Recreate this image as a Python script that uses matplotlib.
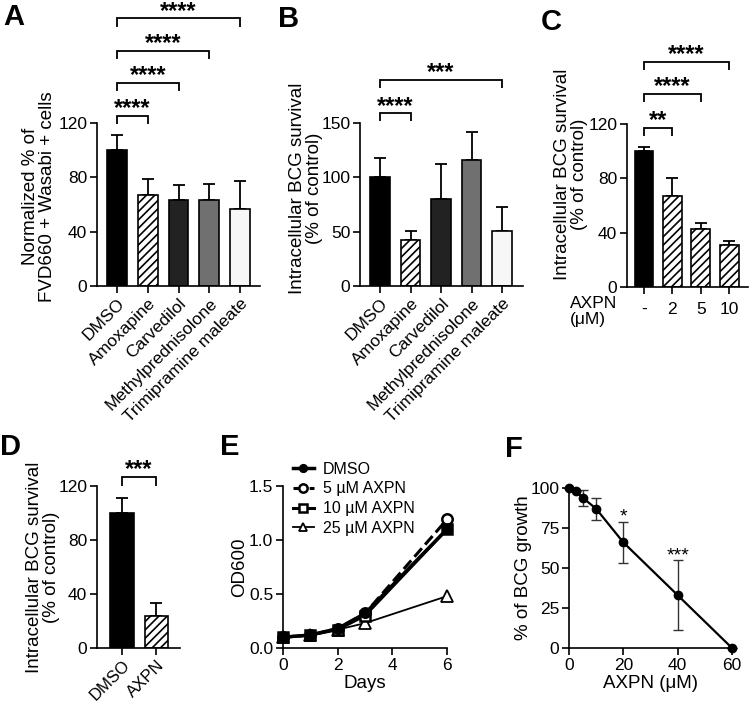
import matplotlib
matplotlib.use("Agg")
import matplotlib.pyplot as plt
import numpy as np

plt.rcParams['font.family'] = ['Liberation Sans', 'DejaVu Sans']
plt.rcParams['hatch.linewidth'] = 1.2
plt.rcParams['axes.linewidth'] = 1.2

W, H = 750, 703

# ---------------- data ----------------
drugs = ["DMSO", "Amoxapine", "Carvedilol", "Methylprednisolone", "Trimipramine maleate"]
a_vals = [100, 67, 63, 63, 57]
a_err = [11, 12, 11, 12, 20]
b_vals = [100, 42, 80, 116, 51]
b_err = [18, 9, 32, 26, 22]
drug_colors = ["#000000", "#ffffff", "#222222", "#707070", "#f7f7f7"]
drug_hatch = [None, "////", None, None, None]

c_labels = ["-", "2", "5", "10"]
c_vals = [100, 67, 43, 31]
c_err = [3, 13, 4, 3]

d_labels = ["DMSO", "AXPN"]
d_vals = [100, 24]
d_err = [11, 9]

e_days = [0, 1, 2, 3, 6]
e_dmso = [0.10, 0.12, 0.18, 0.32, 1.10]
e_5 = [0.10, 0.12, 0.18, 0.32, 1.19]
e_10 = [0.10, 0.12, 0.17, 0.30, 1.10]
e_25 = [0.10, 0.12, 0.17, 0.23, 0.48]

f_conc = [0, 2.5, 5, 10, 20, 40, 60]
f_growth = [100, 98, 94, 87, 66, 33, 0]
f_err = [0, 0, 5, 7, 13, 22, 0]

fig = plt.figure(figsize=(W / 100, H / 100), dpi=100)


def px_axes(x0, y_top, x1, y_bot):
    return fig.add_axes([x0 / W, 1 - y_bot / H, (x1 - x0) / W, (y_bot - y_top) / H])


def style(ax):
    for s in ["top", "right"]:
        ax.spines[s].set_visible(False)
    ax.tick_params(axis="both", length=5, width=1.2, labelsize=12.5, direction="out", pad=2)


def stars(ax, x, y, txt, size=17, weight="bold", off=0.5):
    ax.annotate(txt, xy=(x, y), xytext=(0, off), textcoords="offset points", ha="center",
                va="baseline", fontsize=size, fontweight=weight, annotation_clip=False)


def bracket(ax, x1, x2, y, h, txt):
    ax.plot([x1, x1, x2, x2], [y - h, y, y, y - h], color="black", lw=1.3, clip_on=False,
            solid_capstyle="butt", solid_joinstyle="miter")
    stars(ax, (x1 + x2) / 2, y, txt)


def bars(ax, vals, errs, colors, hatches, width):
    x = np.arange(len(vals))
    for i in range(len(vals)):
        ax.bar(x[i], vals[i], width=width, color=colors[i], edgecolor="black", lw=1.2,
               hatch=hatches[i], zorder=2)
    ax.errorbar(x, vals, yerr=[np.zeros(len(vals)), errs], fmt="none", ecolor="black",
                elinewidth=1.3, capsize=4.5, capthick=1.3, zorder=1)
    return x


# ---------------- A ----------------
axA = px_axes(97, 123, 260, 286)
style(axA)
x = bars(axA, a_vals, a_err, drug_colors, drug_hatch, 0.65)
axA.set_xlim(-0.65, 4.65)
axA.set_ylim(0, 120)
axA.set_yticks([0, 40, 80, 120])
axA.set_xticks(x)
axA.set_xticklabels(drugs, rotation=45, ha="right", rotation_mode="anchor", fontsize=12.5)
axA.set_ylabel("Normalized % of\nFVD660 + Wasabi + cells", fontsize=13.5, linespacing=1.0)
axA.yaxis.set_label_coords(-0.25, 0.55)
bracket(axA, 0, 1, 125, 6, "****")
bracket(axA, 0, 2, 149.5, 6, "****")
bracket(axA, 0, 3, 173, 6, "****")
bracket(axA, 0, 4, 197, 6, "****")

# ---------------- B ----------------
axB = px_axes(360, 123, 523, 286)
style(axB)
x = bars(axB, b_vals, b_err, drug_colors, drug_hatch, 0.65)
axB.set_xlim(-0.66, 4.69)
axB.set_ylim(0, 150)
axB.set_yticks([0, 50, 100, 150])
axB.set_xticks(x)
axB.set_xticklabels(drugs, rotation=45, ha="right", rotation_mode="anchor", fontsize=12.5)
axB.set_ylabel("Intracellular BCG survival\n(% of control)", fontsize=13.5, linespacing=1.0)
axB.yaxis.set_label_coords(-0.23, 0.6)
bracket(axB, 0, 1, 159, 7.5, "****")
bracket(axB, 0, 4, 190, 7.5, "***")

# ---------------- C ----------------
axC = px_axes(627, 124, 748, 287)
style(axC)
x = bars(axC, c_vals, c_err, ["#000000", "#ffffff", "#ffffff", "#ffffff"],
         [None, "////", "////", "////"], 0.67)
axC.set_xlim(-0.6, 3.67)
axC.set_ylim(0, 120)
axC.set_yticks([0, 40, 80, 120])
axC.set_xticks(x)
axC.set_xticklabels(c_labels, fontsize=12.5)
axC.tick_params(axis="x", pad=6)
axC.set_ylabel("Intracellular BCG survival\n(% of control)", fontsize=13.5, linespacing=1.0)
axC.yaxis.set_label_coords(-0.32, 0.69)
fig.text(570 / W, 1 - 296 / H, "AXPN\n(μM)", ha="left", va="top", fontsize=12.5, linespacing=1.1)
bracket(axC, 0, 1, 117, 6, "**")
bracket(axC, 0, 2, 142, 6, "****")
bracket(axC, 0, 3, 166, 6, "****")

# ---------------- D ----------------
axD = px_axes(97, 486, 180, 648)
style(axD)
x = bars(axD, d_vals, d_err, ["#000000", "#ffffff"], [None, "////"], 0.68)
axD.set_xlim(-0.735, 1.7)
axD.set_ylim(0, 120)
axD.set_yticks([0, 40, 80, 120])
axD.set_xticks(x)
axD.set_xticklabels(d_labels, rotation=45, ha="right", rotation_mode="anchor", fontsize=12)
axD.set_ylabel("Intracellular BCG survival\n(% of control)", fontsize=13.5, linespacing=1.0)
axD.yaxis.set_label_coords(-0.45, 0.5)
bracket(axD, 0, 1, 127, 7, "***")

# ---------------- E ----------------
axE = px_axes(283, 486, 447, 648)
style(axE)
axE.plot(e_days, e_dmso, "-", color="black", lw=2.5, marker="o", ms=7, mfc="black",
         mec="black", clip_on=False, zorder=4, label="DMSO")
axE.plot(e_days, e_5, "--", color="black", lw=2.2, marker="o", ms=7.5, mfc="white",
         mec="black", mew=1.8, clip_on=False, zorder=3, label="5 µM AXPN")
axE.plot(e_days, e_10, "-", color="black", lw=2.2, marker="s", ms=7.5, mfc="white",
         mec="black", mew=1.8, clip_on=False, zorder=3, label="10 µM AXPN")
axE.plot(e_days, e_25, "-", color="black", lw=1.3, marker="^", ms=8, mfc="white",
         mec="black", mew=1.3, clip_on=False, zorder=2, label="25 µM AXPN")
axE.set_xlim(0, 6)
axE.set_ylim(0, 1.5)
axE.set_xticks([0, 2, 4, 6])
axE.set_yticks([0, 0.5, 1.0, 1.5])
axE.set_yticklabels(["0.0", "0.5", "1.0", "1.5"])
axE.set_xlabel("Days", fontsize=13.5, labelpad=2)
axE.set_ylabel("OD600", fontsize=13.5)
axE.yaxis.set_label_coords(-0.21, 0.5)
axE.legend(loc="upper left", bbox_to_anchor=(0.06, 1.15), frameon=False, fontsize=11.5,
           handlelength=1.3, handletextpad=0.6, labelspacing=0.3, borderaxespad=0,
           borderpad=0, markerscale=0.8)

# ---------------- F ----------------
axF = px_axes(569, 488, 732, 648)
style(axF)
axF.errorbar(f_conc, f_growth, yerr=f_err, fmt="none", ecolor="#333333", elinewidth=1.0,
             capsize=3.6, capthick=1.0, zorder=1, clip_on=False)
axF.plot(f_conc, f_growth, "-", color="black", lw=1.6, marker="o", ms=6, clip_on=False, zorder=3)
axF.set_xlim(0, 60)
axF.set_ylim(0, 100)
axF.set_xticks([0, 20, 40, 60])
axF.set_yticks([0, 25, 50, 75, 100])
axF.set_xlabel("AXPN (μM)", fontsize=13.5, labelpad=2)
axF.set_ylabel("% of BCG growth", fontsize=13.5)
axF.yaxis.set_label_coords(-0.23, 0.5)
stars(axF, 20, 79, "*", size=14, weight="normal", off=0)
stars(axF, 40, 55, "***", size=14, weight="normal", off=0)

# ---------------- panel letters ----------------
for lbl, xp, yp in [("A", 3, 3), ("B", 278, 5), ("C", 541, 8), ("D", 0, 433), ("E", 220, 433),
                    ("F", 505, 435)]:
    fig.text(xp / W, 1 - yp / H, lbl, ha="left", va="top", fontsize=21, fontweight="bold")

fig.savefig("out.png", dpi=100)
